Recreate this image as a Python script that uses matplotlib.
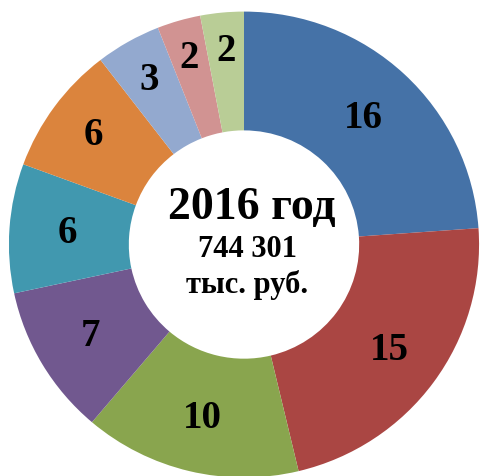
import numpy as np
import matplotlib.pyplot as plt

# Shares by category, clockwise from 12 o'clock
values = [16, 15, 10, 7, 6, 6, 3, 2, 2]
colors = ["#4572A7", "#AA4643", "#89A54E", "#71588F", "#4198AF",
          "#DB843D", "#93A9CF", "#D19392", "#B9CD96"]
center_lines = ["2016 год", "744 301", "тыс. руб."]

# radial placement of each value label (thin slices get pushed outward)
label_r = [0.745, 0.765, 0.765, 0.76, 0.755, 0.795, 0.815, 0.835, 0.835]

plt.rcParams["font.family"] = ["Liberation Serif", "DejaVu Serif"]

fig = plt.figure(figsize=(4.8, 4.77), dpi=100)
ax = fig.add_axes([0, 0, 1, 1])

width = 0.51
ax.pie(values, colors=colors, startangle=90, counterclock=False,
       radius=1.0, wedgeprops=dict(width=width, edgecolor="none"))

total = sum(values)
angle = 90.0
for v, r in zip(values, label_r):
    span = v / total * 360.0
    mid = np.deg2rad(angle - span / 2)
    ax.text(r * np.cos(mid), r * np.sin(mid), str(v),
            ha="center", va="center", fontsize=28, fontweight="bold")
    angle -= span

ax.text(0.035, 0.16, center_lines[0], ha="center", va="center",
        fontsize=33, fontweight="bold")
ax.text(0.015, -0.015, center_lines[1], ha="center", va="center",
        fontsize=22, fontweight="bold")
ax.text(0.015, -0.17, center_lines[2], ha="center", va="center",
        fontsize=22, fontweight="bold")

ax.set_xlim(-1.038, 1.004)
ax.set_ylim(-0.9936, 1.054)
ax.set_aspect("auto")
ax.axis("off")

fig.savefig("out.png", dpi=100)
